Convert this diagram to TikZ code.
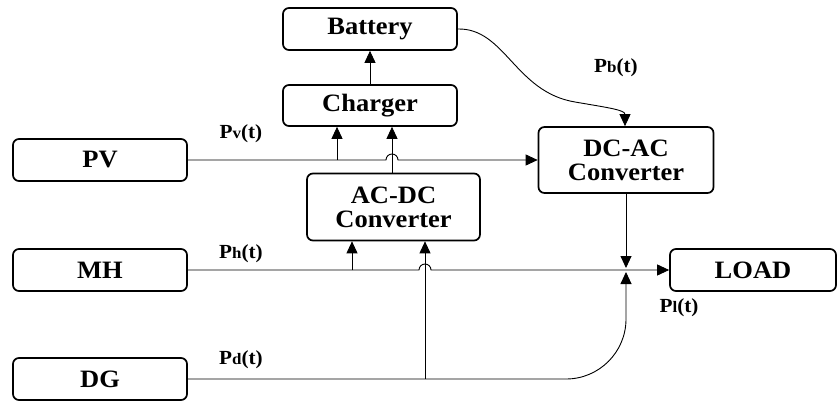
\documentclass[tikz,border=0pt]{standalone}
\usepackage{fontspec}
\setmainfont{Liberation Serif}[FakeStretch=1.06]
\usetikzlibrary{arrows.meta,positioning}
\tikzset{block/.style={draw,line width=1.7pt,rounded corners=6pt,align=center,
    font=\fontsize{25}{24}\selectfont\bfseries},
  sig/.style={line width=0.9pt},
  tip/.style={-{Triangle[length=12pt,width=11pt]}},
  plabel/.style={font=\fontsize{20}{20}\selectfont\bfseries}}
\newcommand{\pw}[1]{P{\fontsize{16}{16}\selectfont #1}(t)}

\begin{document}
\begin{tikzpicture}[x=1pt,y=-1pt]
\useasboundingbox (0,0) rectangle (837,401);

% blocks
\node[block,minimum width=174pt,minimum height=42pt] (battery) at (370,29) {Battery};
\node[block,minimum width=174pt,minimum height=41pt] (charger) at (370,105.5) {Charger};
\node[block,minimum width=174pt,minimum height=42pt] (pv) at (100,160) {PV};
\node[block,minimum width=173pt,minimum height=67pt] (acdc) at (393.5,207) {AC-DC\\Converter};
\node[block,minimum width=175pt,minimum height=66pt] (dcac) at (626,160) {DC-AC\\Converter};
\node[block,minimum width=174pt,minimum height=42pt] (mh) at (100,270) {MH};
\node[block,minimum width=166pt,minimum height=42pt] (load) at (753,270) {LOAD};
\node[block,minimum width=174pt,minimum height=42pt] (dg) at (100,379) {DG};

% labels
\node[plabel] (lpv) at (241,133.5) {\pw{v}};
\node[plabel] (lpb) at (616,68) {\pw{b}};
\node[plabel] (lph) at (241,254) {\pw{h}};
\node[plabel] (lpd) at (241,360) {\pw{d}};
\node[plabel] (lpl) at (679,308) {\pw{l}};

% taps
\coordinate (pvtap) at (337,160);
\coordinate (mhtap) at (352,270);
\coordinate (dgtap) at (425,379);
\coordinate (jdown) at (626,268);
\coordinate (jup) at (626,272);

% connectors
\draw[sig,tip] (charger.north) -- (battery.south);
\draw[sig,tip] (pv.east) -- (386,160) arc (180:0:6pt) -- (dcac.west);
\draw[sig,tip] (pvtap) -- (pvtap |- charger.south);
\draw[sig,tip] (acdc.north -| 392,0) -- (charger.south -| 392,0);
\draw[sig,tip] (mh.east) -- (419,270) arc (180:0:6pt) -- (load.west);
\draw[sig,tip] (mhtap) -- (mhtap |- acdc.south);
\draw[sig,tip] (dgtap) -- (dgtap |- acdc.south);
\draw[sig,tip,rounded corners=60pt] (dg.east) -- (626,379) -- (jup);
\draw[sig,tip] (dcac.south) -- (jdown);
\draw[sig,tip] (battery.east) .. controls (505,28) and (515,92) .. (575,102)
  .. controls (610,108) and (625,110) .. (dcac.north -| 625,0);

\end{tikzpicture}
\end{document}
